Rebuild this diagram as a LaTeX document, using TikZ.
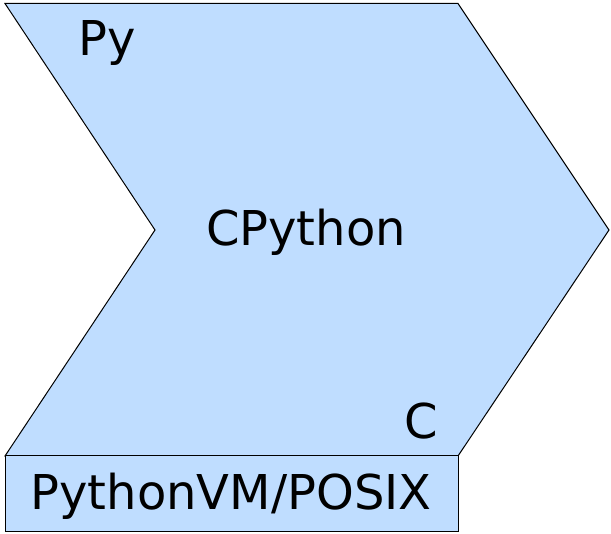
\documentclass[tikz,border=0pt]{standalone}
\usepackage{fontspec}
\setmainfont{DejaVu Sans}
\definecolor{fillblue}{RGB}{191,221,255}
\tikzset{shapestyle/.style={draw=black, fill=fillblue, line width=1pt, line join=miter},
  lbl/.style={font=\fontsize{48}{52}\selectfont, inner sep=0pt}}
\begin{document}
\begin{tikzpicture}[x=1pt,y=-1pt]
\useasboundingbox (0,0) rectangle (611,534);
\draw[shapestyle] (5,3.5) -- (458,3.5) -- (609,230) -- (458,456) -- (5,456) -- (155,230) -- cycle;
\draw[shapestyle] (5,456) rectangle (458,532);
\node[lbl] (py) at (107,43) {Py};
\node[lbl] (cp) at (306,232) {CPython};
\node[lbl] (c) at (421,421) {C};
\node[lbl] (vm) at (231,496) {PythonVM/POSIX};
\end{tikzpicture}
\end{document}
